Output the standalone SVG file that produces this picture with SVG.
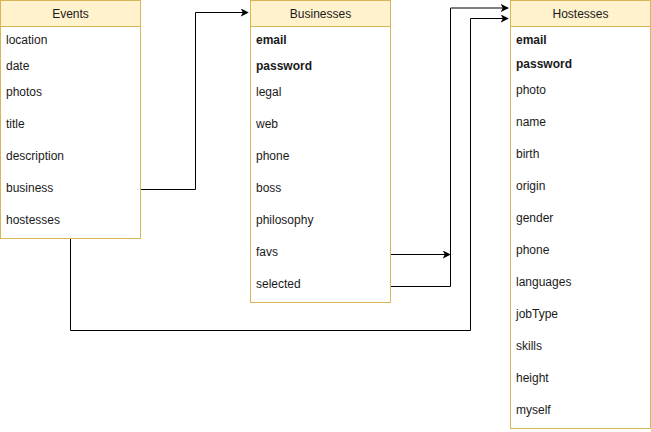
<svg xmlns="http://www.w3.org/2000/svg" width="651" height="432" viewBox="0 0 651 432">
<style>
.box{fill:#ffffff;stroke:#d6b656;stroke-width:1}
.hdr{fill:#fff2cc;stroke:#d6b656;stroke-width:1}
text{font-family:"Liberation Sans",Arial,sans-serif;font-size:12px;fill:#1a1a1a}
.t{text-anchor:middle}
.b{font-weight:bold}
.e{fill:none;stroke:#000;stroke-width:1}
</style>
<defs>
<marker id="ar" viewBox="0 0 10 10" refX="9" refY="5" markerWidth="8" markerHeight="8" markerUnits="userSpaceOnUse" orient="auto">
<path d="M0,0 L10,5 L0,10 L2.5,5 Z" fill="#000"/>
</marker>
</defs>
<g id="connectors">
<path class="e" d="M140.5,189.5 H195.5 V12.5 H248" marker-end="url(#ar)"/>
<path class="e" d="M390.5,254.5 H450" marker-end="url(#ar)"/>
<path class="e" d="M390.5,286.5 H450.5 V8 H508" marker-end="url(#ar)"/>
<path class="e" d="M70.5,238.5 V330.5 H470.5 V18.5 H508" marker-end="url(#ar)"/>
</g>
<g id="events">
<rect class="box" x="0.5" y="0.5" width="140" height="238"/>
<rect class="hdr" x="0.5" y="0.5" width="140" height="26"/>
<text class="t" x="70.5" y="17.5">Events</text>
<text x="6" y="44">location</text>
<text x="6" y="70">date</text>
<text x="6" y="96">photos</text>
<text x="6" y="128">title</text>
<text x="6" y="160">description</text>
<text x="6" y="192">business</text>
<text x="6" y="224">hostesses</text>
</g>
<g id="businesses">
<rect class="box" x="250.5" y="0.5" width="140" height="302"/>
<rect class="hdr" x="250.5" y="0.5" width="140" height="26"/>
<text class="t" x="320.5" y="17.5">Businesses</text>
<text class="b" x="256" y="44">email</text>
<text class="b" x="256" y="70">password</text>
<text x="256" y="96">legal</text>
<text x="256" y="128">web</text>
<text x="256" y="160">phone</text>
<text x="256" y="192">boss</text>
<text x="256" y="224">philosophy</text>
<text x="256" y="256">favs</text>
<text x="256" y="288">selected</text>
</g>
<g id="hostesses">
<rect class="box" x="510.5" y="0.5" width="140" height="428"/>
<rect class="hdr" x="510.5" y="0.5" width="140" height="26"/>
<text class="t" x="580.5" y="17.5">Hostesses</text>
<text class="b" x="516" y="44">email</text>
<text class="b" x="516" y="68">password</text>
<text x="516" y="94">photo</text>
<text x="516" y="126">name</text>
<text x="516" y="158">birth</text>
<text x="516" y="190">origin</text>
<text x="516" y="222">gender</text>
<text x="516" y="254">phone</text>
<text x="516" y="286">languages</text>
<text x="516" y="318">jobType</text>
<text x="516" y="350">skills</text>
<text x="516" y="382">height</text>
<text x="516" y="414">myself</text>
</g>
</svg>
